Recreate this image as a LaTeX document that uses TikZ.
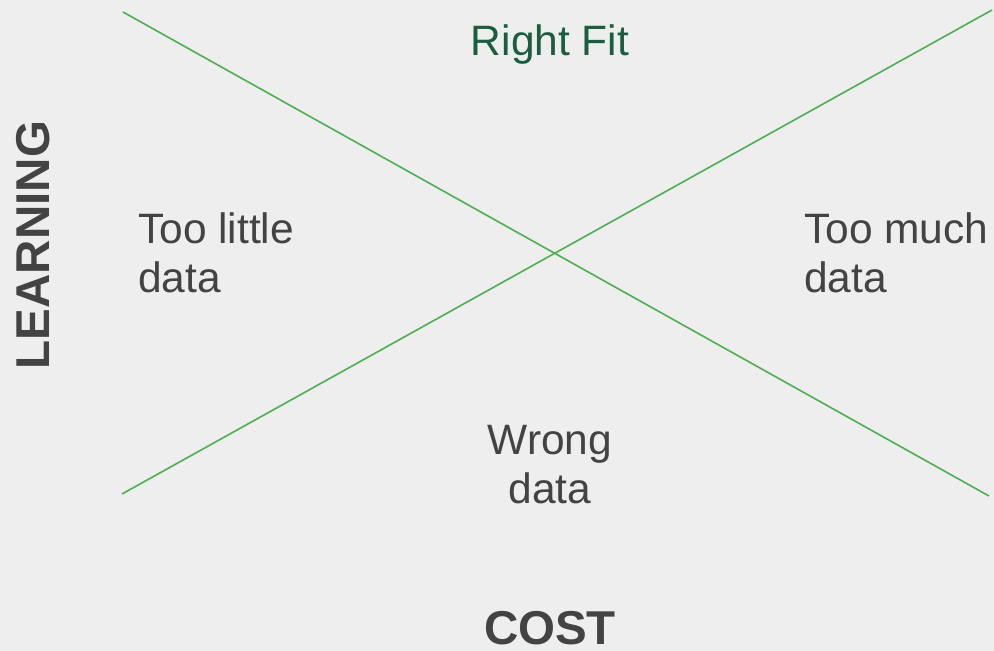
\documentclass[tikz,border=0pt]{standalone}
\usepackage{fontspec}
\setmainfont{Liberation Sans}
\definecolor{bg}{HTML}{EEEEEE}
\definecolor{txt}{HTML}{434343}
\definecolor{fitgreen}{HTML}{1B5E3F}
\definecolor{linegreen}{HTML}{4CAF50}
\begin{document}
\begin{tikzpicture}[x=1pt,y=-1pt,
    label text/.style={text=txt,inner sep=0pt,align=left,font=\fontsize{42.5}{49}\selectfont},
    axis text/.style={text=txt,inner sep=0pt,font=\fontsize{47.5}{56}\selectfont\bfseries},
    fit line/.style={linegreen,line width=1.6pt}]
  \fill[bg] (0,0) rectangle (994,651);
  \useasboundingbox (0,0) rectangle (994,651);

  \coordinate (tl) at (123,12);
  \coordinate (br) at (989,496);
  \coordinate (bl) at (122,494);
  \coordinate (tr) at (992,10);
  \draw[fit line] (tl) -- (br);
  \draw[fit line] (bl) -- (tr);

  \node[label text,text=fitgreen,anchor=base] (fit) at (550,55) {Right Fit};
  \node[label text,anchor=base west] (little) at (138,292) {Too little\\data};
  \node[label text,anchor=base west] (much) at (804,292) {Too much\\data};
  \node[label text,align=center,anchor=base] (wrong) at (550,503) {Wrong\\data};
  \node[axis text,anchor=base] (cost) at (550,644) {COST};
  \node[axis text,rotate=90,anchor=base] (learning) at (49,245) {LEARNING};
\end{tikzpicture}
\end{document}
